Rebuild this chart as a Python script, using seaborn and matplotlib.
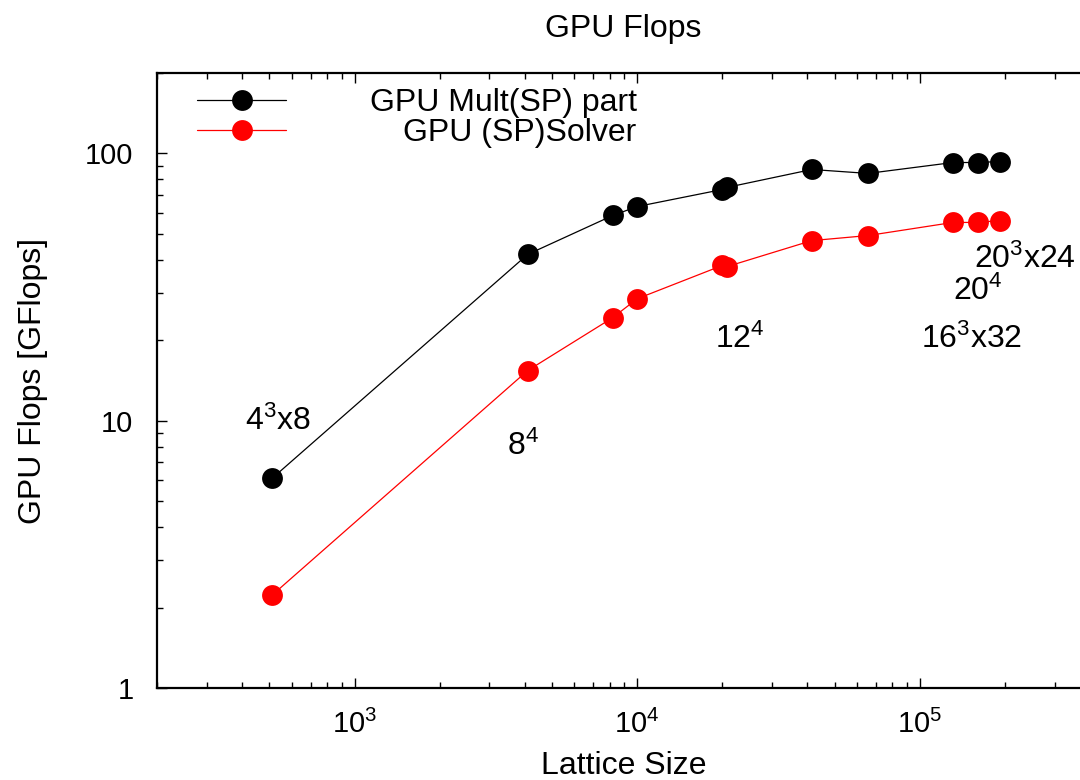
import matplotlib
matplotlib.use("Agg")
import numpy as np
import pandas as pd
import matplotlib.pyplot as plt
import seaborn as sns
from matplotlib.ticker import LogLocator, FixedLocator, FixedFormatter, NullFormatter

# Measured throughput versus lattice volume
lattice_size = [512, 4096, 8192, 10000, 20000, 20736, 41472, 65536, 131072, 160000, 192000]
mult_gflops = [6.1, 41.9, 58.6, 63.3, 73.3, 74.6, 87.1, 84.2, 92.5, 92.5, 93.3]
solver_gflops = [2.23, 15.4, 24.3, 28.6, 38.1, 37.7, 47.2, 49.3, 55.2, 55.2, 56.1]

series_names = ["GPU Mult(SP) part", "GPU (SP)Solver"]
series_colors = ["#000000", "#ff0000"]

y_ticks = [1, 10, 100]
y_tick_labels = ["1", "10", "100"]

lattice_names = [r"$\mathdefault{4^{3}x8}$", r"$\mathdefault{8^{4}}$", r"$\mathdefault{12^{4}}$",
                 r"$\mathdefault{16^{3}x32}$", r"$\mathdefault{20^{4}}$", r"$\mathdefault{20^{3}x24}$"]
lattice_name_x = [534, 3933, 23060, 152800, 160500, 235300]
lattice_name_y = [9.92, 7.99, 20.1, 20.1, 30.4, 40.1]

sns.set_style("ticks")
plt.rcParams["font.family"] = ["Liberation Sans", "DejaVu Sans"]
plt.rcParams["mathtext.fontset"] = "custom"
plt.rcParams["mathtext.rm"] = "Liberation Sans"
plt.rcParams["mathtext.it"] = "Liberation Sans:italic"
plt.rcParams["mathtext.bf"] = "Liberation Sans:bold"
plt.rcParams["text.color"] = "black"
plt.rcParams["axes.labelcolor"] = "black"
plt.rcParams["xtick.color"] = "black"
plt.rcParams["ytick.color"] = "black"

FS_TITLE = 23
FS_TICK = 21
FS_LEG = 23
FS_NOTE = 23

df = pd.DataFrame({
    "size": lattice_size * 2,
    "gflops": mult_gflops + solver_gflops,
    "series": [series_names[0]] * len(lattice_size) + [series_names[1]] * len(lattice_size),
})

fig = plt.figure(figsize=(10.8, 7.8), dpi=100)
ax = fig.add_axes([157 / 1080, 92 / 780, 933 / 1080, 615 / 780])

sns.lineplot(data=df, x="size", y="gflops", hue="series", hue_order=series_names,
             palette=dict(zip(series_names, series_colors)), estimator=None, sort=False,
             marker="o", markersize=15, markeredgewidth=0, linewidth=0.9, ax=ax)

ax.set_xscale("log")
ax.set_yscale("log")
ax.set_xlim(200, 4e5)
ax.set_ylim(1, 200)

ax.yaxis.set_major_locator(FixedLocator(y_ticks))
ax.yaxis.set_major_formatter(FixedFormatter(y_tick_labels))
ax.yaxis.set_minor_locator(LogLocator(base=10, subs=np.arange(2, 10)))
ax.yaxis.set_minor_formatter(NullFormatter())
ax.xaxis.set_major_locator(LogLocator(base=10, numticks=10))
ax.xaxis.set_minor_locator(LogLocator(base=10, subs=np.arange(2, 10), numticks=20))
ax.xaxis.set_minor_formatter(NullFormatter())

for s in ax.spines.values():
    s.set_linewidth(1.6)
    s.set_color("black")
ax.tick_params(which="both", direction="in", top=True, right=True, colors="black", width=1.0)
ax.tick_params(which="major", length=7, labelsize=FS_TICK)
ax.tick_params(which="minor", length=4)
ax.tick_params(axis="x", which="major", pad=16)
ax.tick_params(axis="y", which="major", pad=17)

ax.set_title("GPU Flops", fontsize=FS_TITLE, pad=26)
ax.set_xlabel("Lattice Size", fontsize=FS_TITLE, labelpad=8)
ax.set_ylabel("GPU Flops [GFlops]", fontsize=FS_TITLE, labelpad=27)

for name, xx, yy in zip(lattice_names, lattice_name_x, lattice_name_y):
    ax.text(xx, yy, name, fontsize=FS_NOTE, ha="center", va="center")

handles, labels = ax.get_legend_handles_labels()
leg = ax.legend(handles, labels, loc="upper left", bbox_to_anchor=(40 / 933, 0.975),
                frameon=False, fontsize=FS_LEG, handlelength=2.8, handletextpad=2.6,
                labelspacing=0.0, borderpad=0, borderaxespad=0)

# right-align legend texts while keeping the line samples aligned on the left
fig.canvas.draw()
rend = fig.canvas.get_renderer()
texts = leg.get_texts()
widths = [t.get_window_extent(rend).width for t in texts]
wmax = max(widths)
column = leg._legend_handle_box.get_children()[0]
for row, w in zip(column.get_children(), widths):
    row.sep += (wmax - w) * 72 / fig.dpi

fig.savefig("out.png", dpi=100)
